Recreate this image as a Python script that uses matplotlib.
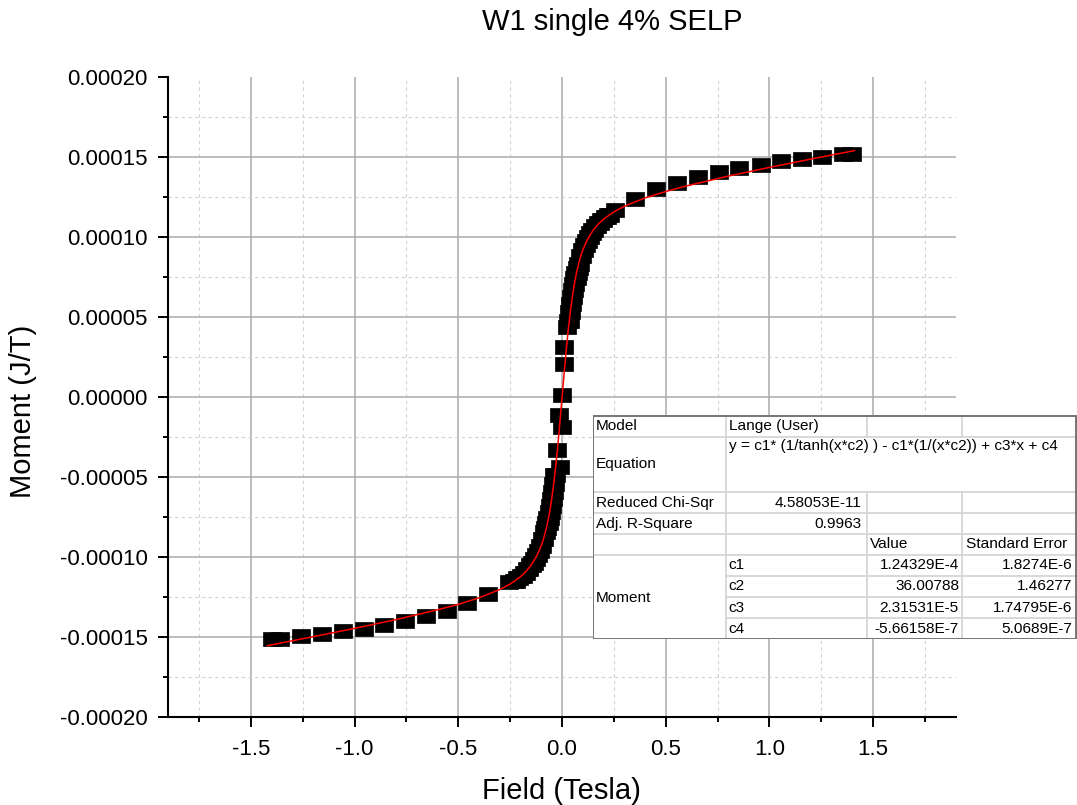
import numpy as np
import matplotlib
matplotlib.use('Agg')
import matplotlib.pyplot as plt
from matplotlib.path import Path
from matplotlib.patches import Rectangle

plt.rcParams['font.family'] = ['Liberation Sans', 'DejaVu Sans']
plt.rcParams['axes.unicode_minus'] = False

# ---------------- data (field in Tesla, moment in 1e-5 J/T) ----------------
field_pos_high = [1.400, 1.355, 1.255, 1.155, 1.058, 0.960, 0.855, 0.756, 0.655, 0.554, 0.453, 0.354, 0.254]
moment_pos_high_e5 = [15.19, 15.19, 15.02, 14.89, 14.73, 14.52, 14.29, 14.06, 13.75, 13.39, 12.98, 12.39, 11.69]

field_neg_high = [-1.400, -1.358, -1.257, -1.156, -1.055, -0.955, -0.856, -0.756, -0.656, -0.556, -0.456, -0.356, -0.256]
moment_neg_high_e5 = [-15.11, -15.11, -14.96, -14.79, -14.64, -14.48, -14.25, -14.02, -13.71, -13.38, -12.88, -12.33, -11.58]

field_down_core = [0.220, 0.205, 0.190, 0.175, 0.160, 0.145, 0.135, 0.125, 0.115, 0.105, 0.095, 0.085,
                   0.075, 0.070, 0.065, 0.060, 0.055, 0.050, 0.045, 0.040, 0.035, 0.030, 0.025,
                   0.009, 0.001, -0.023,
                   -0.040, -0.045, -0.050, -0.055, -0.060, -0.065, -0.070, -0.075, -0.080, -0.085,
                   -0.095, -0.105, -0.115, -0.125, -0.135, -0.145, -0.155, -0.170, -0.185, -0.200,
                   -0.215, -0.230]
moment_down_core_e5 = [11.36, 11.22, 11.06, 10.87, 10.67, 10.42, 10.23, 10.02, 9.78, 9.50, 9.17, 8.79,
                       8.32, 8.06, 7.77, 7.45, 7.09, 6.71, 6.28, 5.82, 5.31, 4.76, 4.35,
                       3.14, 0.13, -3.31,
                       -4.87, -5.42, -5.93, -6.40, -6.82, -7.21, -7.56, -7.88, -8.17, -8.44,
                       -8.90, -9.29, -9.61, -9.89, -10.13, -10.35, -10.53, -10.78, -10.99, -11.17,
                       -11.33, -11.48]

field_up_core = [-0.220, -0.205, -0.190, -0.175, -0.160, -0.145, -0.135, -0.125, -0.115, -0.105, -0.095,
                 -0.085, -0.075, -0.070, -0.065, -0.060, -0.055, -0.050, -0.045, -0.040, -0.035, -0.030,
                 -0.010, -0.015, 0.001, 0.009,
                 0.040, 0.045, 0.050, 0.055, 0.060, 0.065, 0.070, 0.075, 0.080, 0.085,
                 0.095, 0.105, 0.115, 0.125, 0.135, 0.145, 0.155, 0.170, 0.185, 0.200, 0.215, 0.230]
moment_up_core_e5 = [-11.48, -11.33, -11.17, -10.99, -10.78, -10.53, -10.35, -10.13, -9.89, -9.61, -9.29,
                     -8.90, -8.44, -8.17, -7.88, -7.56, -7.21, -6.82, -6.40, -5.93, -5.42, -4.87,
                     -4.35, -1.13, -1.86, 2.04,
                     4.76, 5.31, 5.82, 6.28, 6.71, 7.09, 7.45, 7.77, 8.06, 8.32,
                     8.79, 9.17, 9.50, 9.78, 10.02, 10.23, 10.42, 10.67, 10.87, 11.06, 11.22, 11.36]

fit_field = [-1.42, -1.2, -1.0, -0.8, -0.6, -0.5, -0.4, -0.3, -0.25, -0.2, -0.175, -0.15, -0.12, -0.1,
             -0.09, -0.08, -0.07, -0.06, -0.05, -0.04, -0.03, -0.025, -0.02, -0.015, -0.01, -0.005,
             0.0,
             0.005, 0.01, 0.015, 0.02, 0.025, 0.03, 0.04, 0.05, 0.06, 0.07, 0.08, 0.09, 0.1, 0.12,
             0.15, 0.175, 0.2, 0.25, 0.3, 0.4, 0.5, 0.6, 0.8, 1.0, 1.2, 1.41]
fit_moment_e5 = [-15.54, -14.98, -14.46, -13.91, -13.30, -12.96, -12.55, -12.03, -11.69, -11.23, -10.92,
                 -10.53, -9.89, -9.29, -8.90, -8.44, -7.88, -7.21, -6.40, -5.42, -4.29, -3.66, -3.00,
                 -2.29, -1.56, -0.81,
                 -0.06,
                 0.70, 1.45, 2.17, 2.88, 3.54, 4.18, 5.31, 6.28, 7.09, 7.77, 8.32, 8.79, 9.17, 9.78,
                 10.42, 10.81, 11.11, 11.57, 11.92, 12.44, 12.84, 13.19, 13.80, 14.35, 14.87, 15.40]

x_ticks = [-1.5, -1.0, -0.5, 0.0, 0.5, 1.0, 1.5]
x_tick_labels = ['-1.5', '-1.0', '-0.5', '0.0', '0.5', '1.0', '1.5']
x_minor = [-1.75, -1.25, -0.75, -0.25, 0.25, 0.75, 1.25, 1.75]
y_ticks = [-0.0002, -0.00015, -0.0001, -0.00005, 0.0, 0.00005, 0.0001, 0.00015, 0.0002]
y_tick_labels = ['-0.00020', '-0.00015', '-0.00010', '-0.00005', '0.00000',
                 '0.00005', '0.00010', '0.00015', '0.00020']
y_minor = [-0.000175, -0.000125, -0.000075, -0.000025, 0.000025, 0.000075, 0.000125, 0.000175]

title = 'W1 single 4% SELP'
x_label = 'Field (Tesla)'
y_label = 'Moment (J/T)'

table_labels = ['Model', 'Equation', 'Reduced Chi-Sqr', 'Adj. R-Square', 'Moment']
model_name = 'Lange (User)'
equation = 'y = c1* (1/tanh(x*c2) ) - c1*(1/(x*c2)) + c3*x + c4'
chi_sqr = '4.58053E-11'
adj_r2 = '0.9963'
col_headers = ['Value', 'Standard Error']
param_names = ['c1', 'c2', 'c3', 'c4']
param_values = ['1.24329E-4', '36.00788', '2.31531E-5', '-5.66158E-7']
param_errors = ['1.8274E-6', '1.46277', '1.74795E-6', '5.0689E-7']

# ---------------- figure ----------------
W, H = 1077, 805
fig = plt.figure(figsize=(W / 100, H / 100), dpi=100)
ax = fig.add_axes([168 / W, 1 - 717 / H, 788 / W, 640 / H])
ax.set_xlim(-1.9, 1.9)
ax.set_ylim(-0.0002, 0.0002)

# grid
for v in x_ticks:
    ax.axvline(v, color='#ababab', lw=1.1, zorder=0)
for v in x_minor:
    ax.axvline(v, color='#d2d2d2', lw=0.8, ls=(0, (3, 3)), zorder=0)
for v in y_ticks[1:-1]:
    ax.axhline(v, color='#ababab', lw=1.1, zorder=0)
for v in y_minor:
    ax.axhline(v, color='#d2d2d2', lw=0.8, ls=(0, (3, 3)), zorder=0)

ax.set_xticks(x_ticks)
ax.set_xticklabels(x_tick_labels)
ax.set_xticks(x_minor, minor=True)
ax.set_yticks(y_ticks)
ax.set_yticklabels(y_tick_labels)
ax.set_yticks(y_minor, minor=True)
ax.tick_params(which='major', direction='out', length=7.5, width=1.4, labelsize=16, color='black')
ax.tick_params(which='minor', direction='out', length=3.5, width=1.4, color='black')
ax.tick_params(axis='x', which='major', pad=8)
ax.tick_params(axis='y', which='major', pad=7)

for s in ['top', 'right']:
    ax.spines[s].set_visible(False)
for s in ['left', 'bottom']:
    ax.spines[s].set_linewidth(1.5)
    ax.spines[s].set_color('black')

# markers: slightly wide rectangles
rect = Path([(-0.5, -0.39), (0.5, -0.39), (0.5, 0.39), (-0.5, 0.39), (-0.5, -0.39)],
            [Path.MOVETO, Path.LINETO, Path.LINETO, Path.LINETO, Path.CLOSEPOLY])
scale = 1e-5
for fx, my in [(field_pos_high, moment_pos_high_e5), (field_neg_high, moment_neg_high_e5),
               (field_down_core, moment_down_core_e5), (field_up_core, moment_up_core_e5)]:
    ax.plot(fx, np.array(my) * scale, linestyle='none', marker=rect, markersize=13,
            color='black', markeredgewidth=0.5, zorder=3)

ax.plot(fit_field, np.array(fit_moment_e5) * scale, color='#ff0000', lw=1.1, zorder=4)

# labels
fig.text(612 / W, 1 - 22 / H, title, ha='center', va='center', fontsize=21)
fig.text(561.5 / W, 1 - 791 / H, x_label, ha='center', va='center', fontsize=21)
fig.text(23 / W, 1 - 411 / H, y_label, ha='center', va='center', rotation=90, fontsize=21)

# ---------------- fit result table ----------------
tw, th = 484.0, 224.3
tax = fig.add_axes([592.7 / W, 1 - 639.3 / H, tw / W, th / H])
tax.set_xlim(0, tw)
tax.set_ylim(th, 0)
tax.axis('off')
tax.add_patch(Rectangle((0, 0), tw, th, facecolor='white', edgecolor='none', zorder=0))

lc = '#d6d6d6'
for y in [21.7, 76.7, 98.3, 119, 140]:
    tax.plot([0, tw], [y, y], color=lc, lw=1.3, zorder=1)
for y in [160.7, 181.7, 203.3]:
    tax.plot([133, tw], [y, y], color=lc, lw=1.3, zorder=1)
tax.plot([133, 133], [0, th], color=lc, lw=1.3, zorder=1)
for x in [274, 369.6]:
    tax.plot([x, x], [0, 21.7], color=lc, lw=1.3, zorder=1)
    tax.plot([x, x], [76.7, th], color=lc, lw=1.3, zorder=1)
tax.add_patch(Rectangle((0.6, 0.6), tw - 1.2, th - 1.2, facecolor='none',
                        edgecolor='#6a6a6a', lw=1.3, zorder=2))

fs = 11.1
tax.text(3.3, 10.7, table_labels[0], ha='left', va='center', fontsize=fs)
tax.text(136, 10.7, model_name, ha='left', va='center', fontsize=fs)
tax.text(136, 31, equation, ha='left', va='center', fontsize=fs)
tax.text(3.3, 49, table_labels[1], ha='left', va='center', fontsize=fs)
tax.text(3.3, 88.3, table_labels[2], ha='left', va='center', fontsize=fs)
tax.text(269, 88.3, chi_sqr, ha='right', va='center', fontsize=fs)
tax.text(3.3, 109, table_labels[3], ha='left', va='center', fontsize=fs)
tax.text(269, 109, adj_r2, ha='right', va='center', fontsize=fs)
tax.text(277, 129.5, col_headers[0], ha='left', va='center', fontsize=fs)
tax.text(373, 129.5, col_headers[1], ha='left', va='center', fontsize=fs)
tax.text(3.3, 182.6, table_labels[4], ha='left', va='center', fontsize=fs)
row_y = [150.3, 171.2, 192.5, 213.6]
for yy, n, v, e in zip(row_y, param_names, param_values, param_errors):
    tax.text(136, yy, n, ha='left', va='center', fontsize=fs)
    tax.text(366.3, yy, v, ha='right', va='center', fontsize=fs)
    tax.text(479.6, yy, e, ha='right', va='center', fontsize=fs)

fig.savefig('out.png', dpi=100)
